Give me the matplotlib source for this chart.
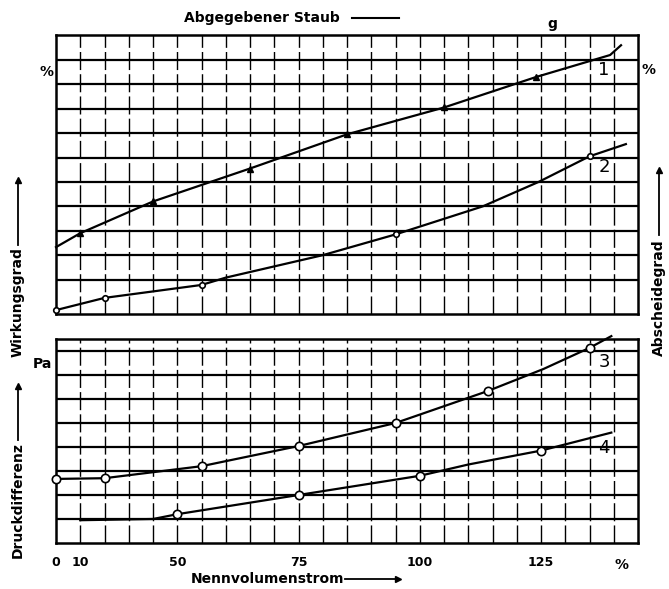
import matplotlib
matplotlib.use("Agg")
import matplotlib.pyplot as plt

plt.rcParams['font.family'] = ['Liberation Sans Narrow', 'DejaVu Sans']

# grid units: x = 0..24 columns, tick labels in % of nominal flow
x_tick_pos = [0, 1, 5, 10, 15, 20]
x_tick_labels = ['0', '10', '50', '75', '100', '125']

# top panel: Wirkungsgrad (1) and Abscheidegrad (2)
curve1_x = [0, 1, 4, 8, 12, 16, 19.8, 22.85, 23.3]
curve1_y = [2.33, 2.9, 4.2, 5.55, 6.95, 8.05, 9.3, 10.2, 10.6]
curve1_mx = [1, 4, 8, 12, 16, 19.8]
curve1_my = [2.9, 4.2, 5.55, 6.95, 8.05, 9.3]

curve2_x = [0, 2, 6, 7, 11.0, 14.0, 17.6, 19.9, 22.0, 23.5]
curve2_y = [-0.25, 0.25, 0.78, 1.08, 2.0, 2.85, 4.0, 5.0, 6.05, 6.55]
curve2_mx = [0, 2, 6, 14, 22]
curve2_my = [-0.25, 0.25, 0.78, 2.85, 6.05]

# bottom panel: Druckdifferenz (3) and (4)
curve3_x = [0, 2, 6, 10, 14, 17.8, 20.1, 22, 22.9]
curve3_y = [2.67, 2.7, 3.2, 4.04, 5.0, 6.33, 7.25, 8.13, 8.62]
curve3_mx = [0, 2, 6, 10, 14, 17.8, 22]
curve3_my = [2.67, 2.7, 3.2, 4.04, 5.0, 6.33, 8.13]

curve4_x = [1, 4, 5, 10, 15, 17, 20, 22.9]
curve4_y = [0.95, 1.0, 1.2, 2.0, 2.8, 3.27, 3.85, 4.6]
curve4_mx = [5, 10, 15, 20]
curve4_my = [1.2, 2.0, 2.8, 3.85]

W, H = 669, 589
fig = plt.figure(figsize=(W / 100, H / 100), dpi=100)


def fx(x):
    return x / W


def fy(y):
    return 1 - y / H


def draw_grid(ax, nrows):
    # vertical lines look broken in the scan, horizontal ones are heavy
    for i in range(1, 24):
        ax.axvline(i, color='black', lw=1.0, ls=(0, (13, 3)), zorder=1)
    for j in range(1, nrows + 1):
        ax.axhline(j, color='black', lw=1.6, zorder=1)
    for s in ax.spines.values():
        s.set_linewidth(1.8)
    ax.set_xlim(0, 24)
    ax.set_xticks([])
    ax.set_yticks([])


ax1 = fig.add_axes([fx(56), fy(314), fx(638) - fx(56), fy(35) - fy(314)])
ax1.set_ylim(-0.41, 11.02)
draw_grid(ax1, 10)
ax1.plot(curve1_x, curve1_y, color='black', lw=1.6, zorder=3, clip_on=False)
ax1.plot(curve1_mx, curve1_my, ls='none', marker='^', ms=4, color='black', zorder=4)
ax1.plot(curve2_x, curve2_y, color='black', lw=1.6, zorder=3, clip_on=False)
ax1.plot(curve2_mx, curve2_my, ls='none', marker='o', ms=4, mfc='white', mec='black', mew=1.2,
         zorder=4, clip_on=False)
ax1.text(22.6, 9.6, '1', fontsize=13, ha='center', va='center', family='DejaVu Sans', zorder=5)
ax1.text(22.6, 5.6, '2', fontsize=13, ha='center', va='center', family='DejaVu Sans', zorder=5)

ax2 = fig.add_axes([fx(56), fy(543), fx(638) - fx(56), fy(339) - fy(543)])
ax2.set_ylim(0, 8.5)
draw_grid(ax2, 8)
ax2.plot(curve3_x, curve3_y, color='black', lw=1.6, zorder=3, clip_on=False)
ax2.plot(curve3_mx, curve3_my, ls='none', marker='o', ms=6, mfc='white', mec='black', mew=1.2,
         zorder=4, clip_on=False)
ax2.plot(curve4_x, curve4_y, color='black', lw=1.6, zorder=3)
ax2.plot(curve4_mx, curve4_my, ls='none', marker='o', ms=6, mfc='white', mec='black', mew=1.2,
         zorder=4)
ax2.text(22.6, 7.55, '3', fontsize=13, ha='center', va='center', family='DejaVu Sans', zorder=5)
ax2.text(22.6, 3.95, '4', fontsize=13, ha='center', va='center', family='DejaVu Sans', zorder=5)

# x tick labels under the lower panel
ax2.set_xticks(x_tick_pos)
ax2.set_xticklabels(x_tick_labels, fontsize=9, fontweight='bold')
ax2.tick_params(axis='x', length=0, pad=9)
ax2.text(23.3, -0.9, '%', fontsize=10, fontweight='bold', ha='center', va='center')

lab = dict(fontsize=10, fontweight='bold', color='black')

# axis titles with arrows
fig.text(fx(262), fy(18), 'Abgegebener Staub', ha='center', va='center', **lab)
fig.add_artist(plt.Line2D([fx(352), fx(399)], [fy(18), fy(18)], color='black', lw=1.5))
fig.text(fx(552), fy(24), 'g', ha='center', va='center', **lab)

fig.text(fx(267), fy(579), 'Nennvolumenstrom', ha='center', va='center', **lab)
fig.add_artist(plt.Line2D([fx(345), fx(398)], [fy(579), fy(579)], color='black', lw=1.3))
fig.add_artist(plt.Line2D([fx(398)], [fy(579)], marker='>', ms=4, color='black'))

fig.text(fx(18), fy(302), 'Wirkungsgrad', rotation=90, ha='center', va='center', **lab)
fig.add_artist(plt.Line2D([fx(18), fx(18)], [fy(245), fy(182)], color='black', lw=1.3))
fig.add_artist(plt.Line2D([fx(18)], [fy(180)], marker='^', ms=4, color='black'))

fig.text(fx(18), fy(500), 'Druckdifferenz', rotation=90, ha='center', va='center', **lab)
fig.add_artist(plt.Line2D([fx(18), fx(18)], [fy(440), fy(388)], color='black', lw=1.3))
fig.add_artist(plt.Line2D([fx(18)], [fy(386)], marker='^', ms=4, color='black'))

fig.text(fx(659), fy(298), 'Abscheidegrad', rotation=90, ha='center', va='center', **lab)
fig.add_artist(plt.Line2D([fx(659), fx(659)], [fy(235), fy(172)], color='black', lw=1.3))
fig.add_artist(plt.Line2D([fx(659)], [fy(170)], marker='^', ms=4, color='black'))

# unit labels
fig.text(fx(47), fy(72), '%', ha='center', va='center', **lab)
fig.text(fx(648), fy(70), '%', ha='center', va='center', **lab)
fig.text(fx(42), fy(364), 'Pa', ha='center', va='center', **lab)

fig.savefig('out.png', dpi=100)
